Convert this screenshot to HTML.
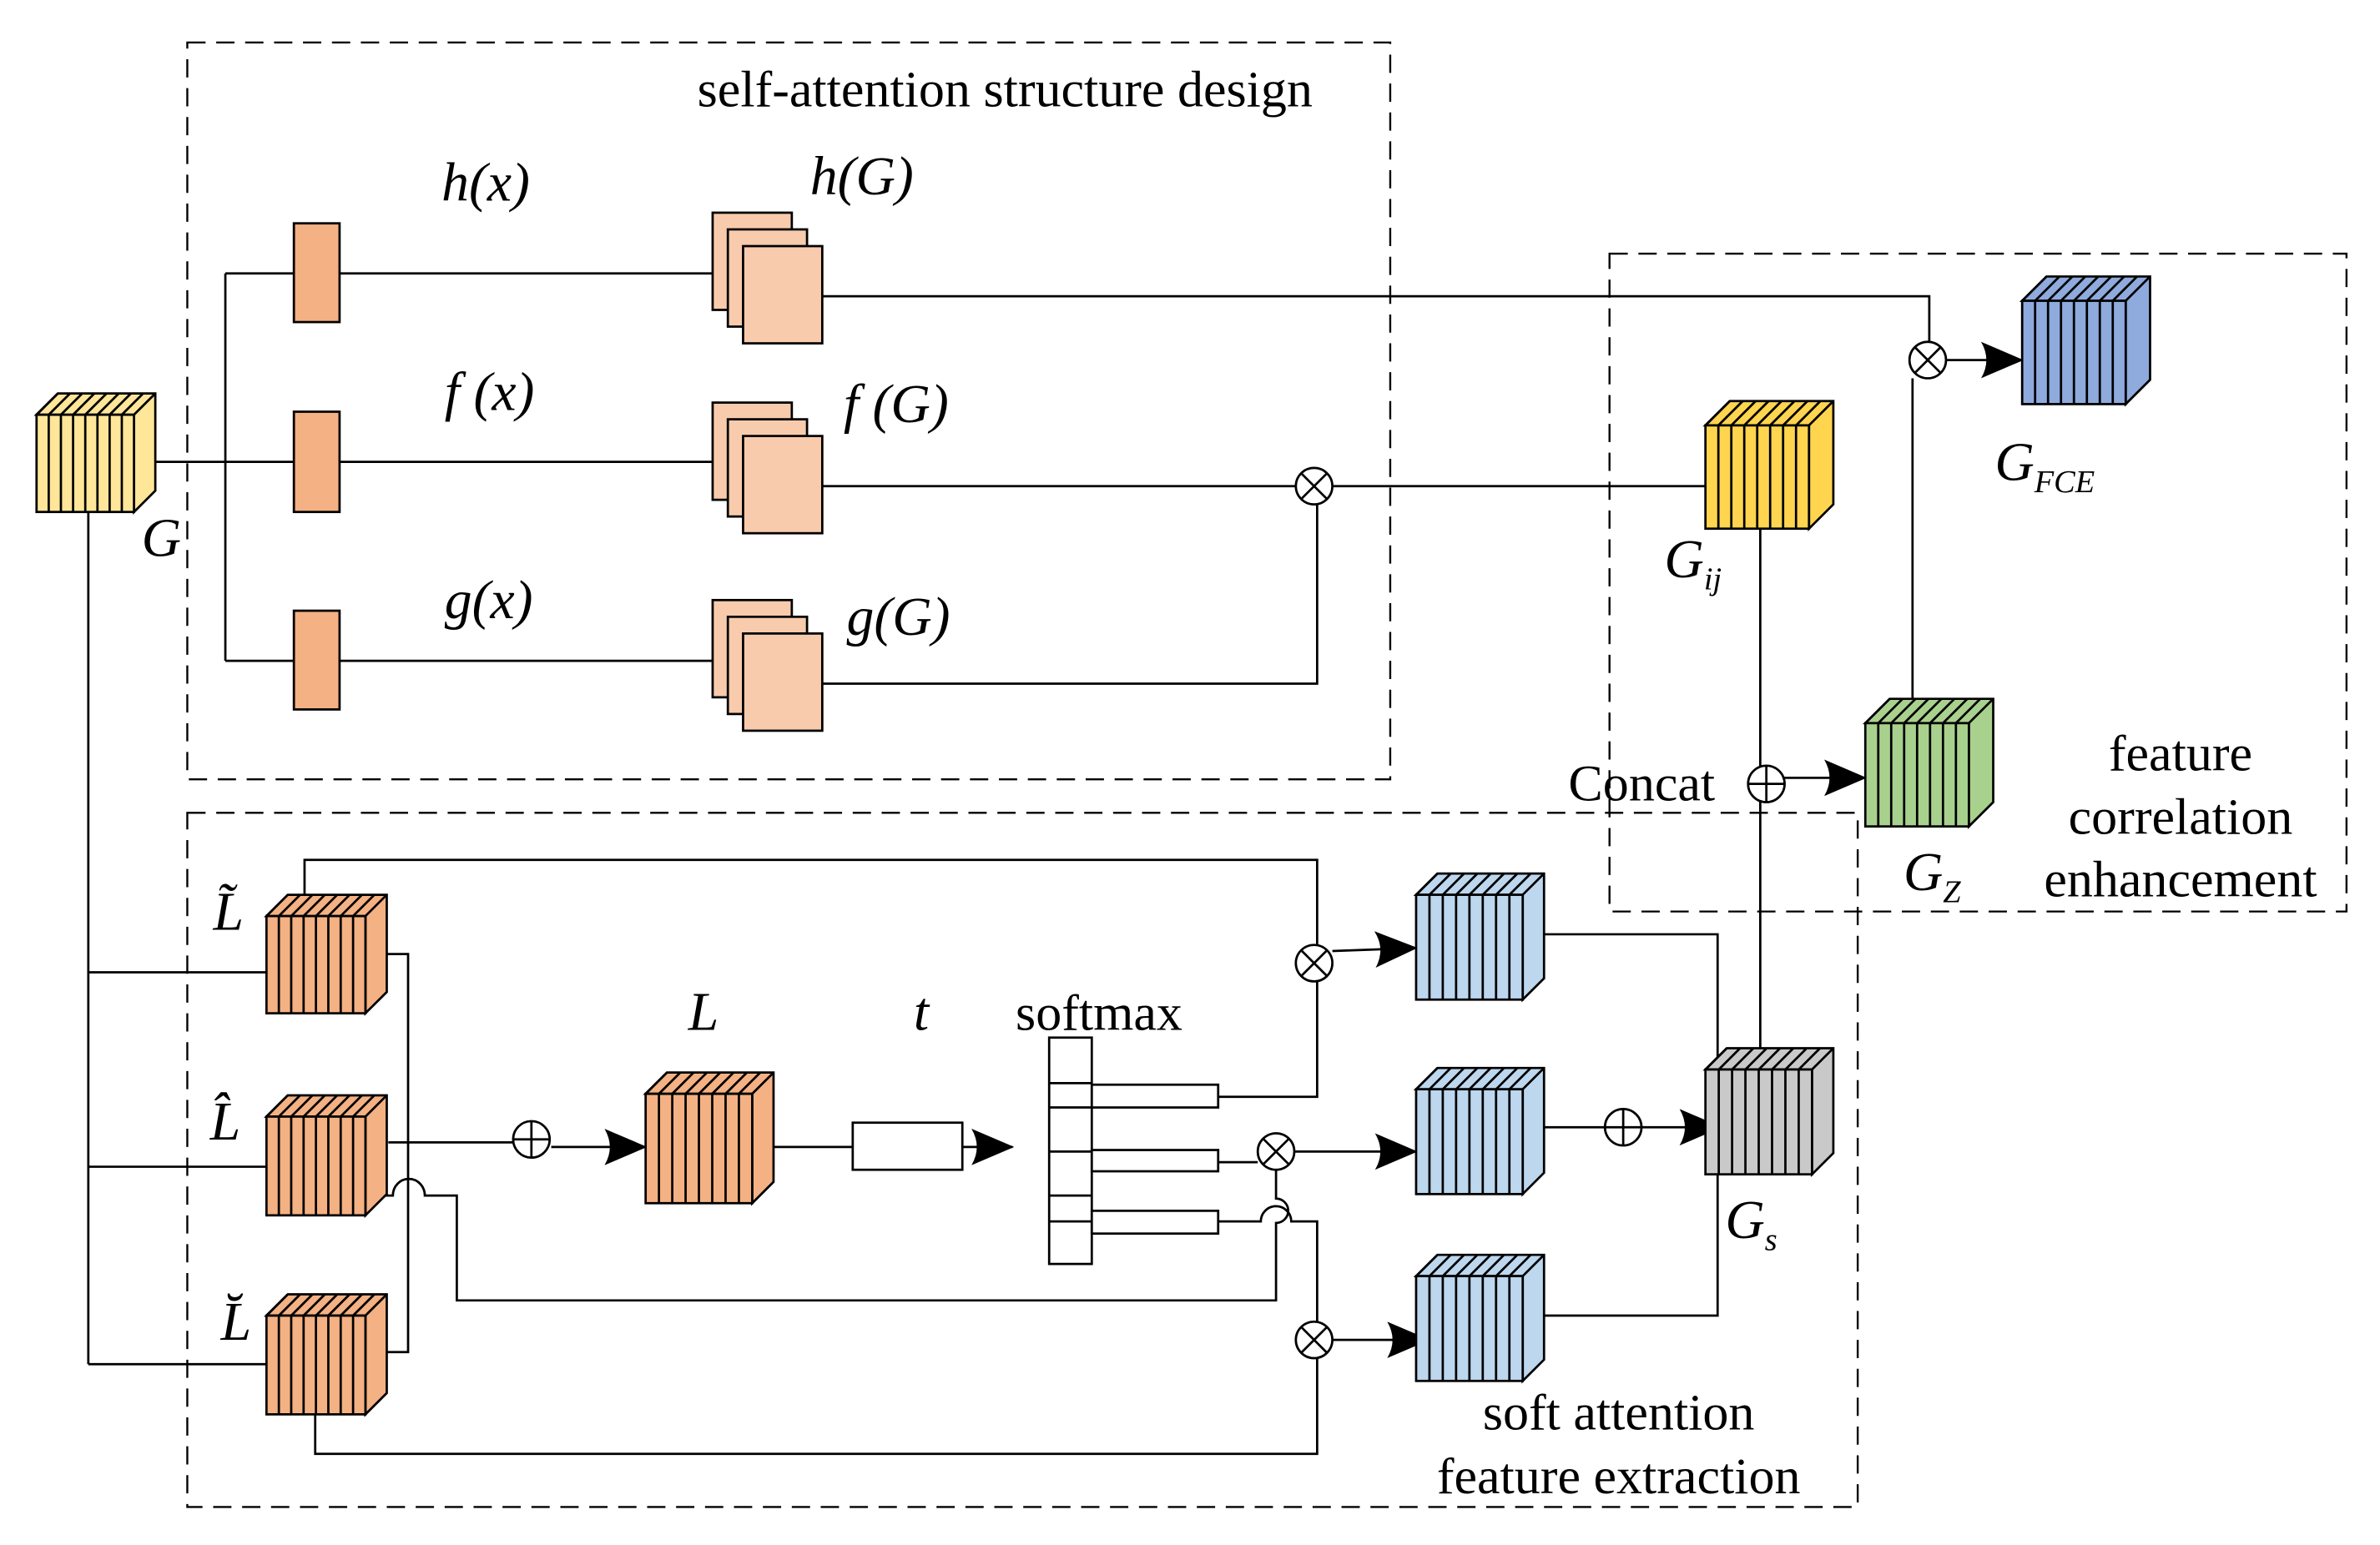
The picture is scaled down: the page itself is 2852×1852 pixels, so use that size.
<!DOCTYPE html>
<html><head><meta charset="utf-8"><style>
html,body{margin:0;padding:0;background:#fff;}
svg{display:block}
text{font-family:"Liberation Serif",serif;fill:#000}
.i{font-style:italic}
</style></head><body>
<svg id="s" width="2852" height="1852" viewBox="0 0 1563 1017" preserveAspectRatio="none" xmlns="http://www.w3.org/2000/svg">
<defs><marker id="a" markerWidth="28" markerHeight="24" refX="27" refY="12" orient="auto" markerUnits="userSpaceOnUse" viewBox="0 0 28 24"><path d="M0,0 L28,12 L0,24 Q7,12 0,0z" fill="#000"/></marker></defs>
<g fill="none" stroke="#000" stroke-width="1.3" stroke-dasharray="12,7">
<rect x="123" y="28" width="790" height="485"/>
<rect x="123" y="535" width="1097" height="457"/>
<rect x="1057" y="167" width="484" height="433"/>
</g>
<g id="g" stroke="#000" stroke-width="1.5" fill="none"></g>
<text x="660" y="70" font-size="34" text-anchor="middle">self-attention structure design</text>
<text x="290" y="132" font-size="36" class="i">h(x)</text>
<text x="532" y="128" font-size="36" class="i">h(G)</text>
<text x="292" y="270" font-size="36" class="i">f (x)</text>
<text x="554" y="278" font-size="36" class="i">f (G)</text>
<text x="292" y="407" font-size="36" class="i">g(x)</text>
<text x="556" y="418" font-size="36" class="i">g(G)</text>
<text x="93" y="366" font-size="36" class="i">G</text>
<text x="1093" y="380" font-size="36" class="i">G<tspan font-size="21" dy="8">ij</tspan></text>
<text x="1310" y="316" font-size="36" class="i">G<tspan font-size="21" dy="8">FCE</tspan></text>
<text x="1250" y="586" font-size="36" class="i">G<tspan font-size="21" dy="8">Z</tspan></text>
<text x="1030" y="527" font-size="34">Concat</text>
<text x="1432" y="507" font-size="34" text-anchor="middle">feature</text>
<text x="1432" y="549" font-size="34" text-anchor="middle">correlation</text>
<text x="1432" y="590" font-size="34" text-anchor="middle">enhancement</text>
<text x="140" y="612" font-size="36" class="i">L&#771;</text>
<text x="138" y="750" font-size="36" class="i">L&#770;</text>
<text x="145" y="882" font-size="36" class="i">L&#774;</text>
<text x="452" y="678" font-size="36" class="i">L</text>
<text x="600" y="678" font-size="36" class="i">t</text>
<text x="667" y="678" font-size="34">softmax</text>
<text x="1133" y="815" font-size="36" class="i">G<tspan font-size="21" dy="8">s</tspan></text>
<text x="1063" y="941" font-size="34" text-anchor="middle">soft attention</text>
<text x="1063" y="983" font-size="34" text-anchor="middle">feature extraction</text>
</svg>
<script>
var g=document.getElementById('g'),o='';
function L(p,arrow){o+='<polyline points="'+p+'"'+(arrow?' marker-end="url(#a)"':'')+'/>';}
function R(x,y,w,h,f){o+='<rect x="'+x+'" y="'+y+'" width="'+w+'" height="'+h+'" fill="'+(f||'#fff')+'"/>';}
function cube(x,y,w,h,d,f){
 o+='<polygon points="'+x+','+y+' '+(x+d)+','+(y-d)+' '+(x+w+d)+','+(y-d)+' '+(x+w+d)+','+(y+h-d)+' '+(x+w)+','+(y+h)+' '+(x+w)+','+y+'" fill="'+f+'"/>';
 R(x,y,w,h,f);var n=8;
 for(var i=1;i<=n;i++){var xx=x+w*i/n;if(i<n)o+='<line x1="'+xx+'" y1="'+y+'" x2="'+xx+'" y2="'+(y+h)+'"/>';o+='<line x1="'+(xx-w/n)+'" y1="'+y+'" x2="'+(xx-w/n+d)+'" y2="'+(y-d)+'"/>';}
 o+='<line x1="'+(x+w)+'" y1="'+y+'" x2="'+(x+w+d)+'" y2="'+(y-d)+'"/>';
}
function ot(x,y){o+='<circle cx="'+x+'" cy="'+y+'" r="12" fill="#fff"/><line x1="'+(x-8)+'" y1="'+(y-8)+'" x2="'+(x+8)+'" y2="'+(y+8)+'"/><line x1="'+(x-8)+'" y1="'+(y+8)+'" x2="'+(x+8)+'" y2="'+(y-8)+'"/>';}
function op(x,y){o+='<circle cx="'+x+'" cy="'+y+'" r="12" fill="#fff"/><line x1="'+(x-12)+'" y1="'+y+'" x2="'+(x+12)+'" y2="'+y+'"/><line x1="'+x+'" y1="'+(y-12)+'" x2="'+x+'" y2="'+(y+12)+'"/>';}
function stack(x,y){for(var i=0;i<3;i++)R(x+i*10,y+i*11,52,64,'#f8cbad');}
L('88,304 193,304');L('148,180 148,435');L('148,180 193,180');L('148,435 193,435');
L('223,180 468,180');L('223,304 468,304');L('223,435 468,435');
L('540,195 1267,195 1267,225');L('540,320 1120,320');L('540,450 865,450 865,332');
L('1278,237 1328,237',1);
L('1156,348 1156,690');L('1172,512 1225,512',1);L('1256,460 1256,249');
L('58,337 58,898');L('58,640 175,640');L('58,768 175,768');L('58,898 175,898');
L('200,589 200,566 865,566 865,622');L('875,626 930,624',1);
L('240,628 268,628 268,890 240,890');
L('255,752 337,752');L('362,755 424,755',1);
o+='<path d="M245,787 L258,787 A10.5,11 0 0 1 279,787 L300,787 L300,856 L838,856 L838,805 A8,8 0 0 0 838,789 L838,770"/>';
L('494,755 560,755');R(560,739,72,31);L('632,755 665,755',1);
L('800,722 865,722 865,646');L('800,765 826,765');L('850,758 930,758',1);
o+='<path d="M800,804 L828,804 A10,10 0 0 1 848,804 L865,804 L865,870"/>';
L('207,931 207,957 865,957 865,894');L('875,882 938,882',1);
L('1014,615 1128,615 1128,704');L('1014,742 1054,742');L('1078,742 1130,742',1);L('1014,866 1128,866 1128,773');
R(193,147,30,65,'#f4b183');R(193,271,30,66,'#f4b183');R(193,402,30,65,'#f4b183');
stack(468,140);stack(468,265);stack(468,395);
cube(24,273,64,64,14,'#ffe699');
cube(1120,280,68,68,16,'#ffd54f');
cube(1328,198,68,68,16,'#8faadc');
cube(1225,476,68,68,16,'#a9d18e');
cube(175,603,65,64,14,'#f4b183');cube(175,735,65,65,14,'#f4b183');cube(175,866,65,65,14,'#f4b183');
cube(424,720,70,72,14,'#f4b183');
cube(930,589,70,69,14,'#bdd7ee');cube(930,717,70,69,14,'#bdd7ee');cube(930,840,70,69,14,'#bdd7ee');
cube(1120,704,70,69,14,'#c9c9c9');
R(689,683,28,149);[713,729,758,787,804].forEach(function(y){L('689,'+y+' 717,'+y);});
R(717,714,83,15);R(717,757,83,14);R(717,797,83,15);
ot(863,320);ot(1266,237);ot(863,634);ot(838,758);ot(863,882);
op(1160,516);op(349,750);op(1066,742);
g.innerHTML=o;
</script>
</body></html>
